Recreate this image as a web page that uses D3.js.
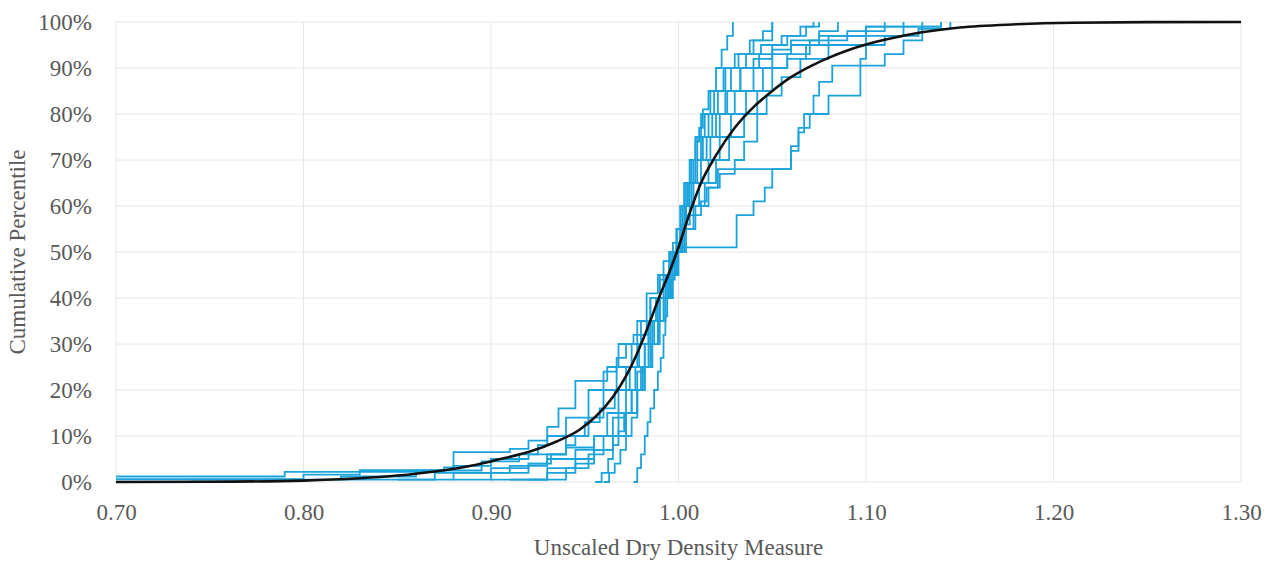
<!DOCTYPE html>
<html>
<head>
<meta charset="utf-8">
<script src="https://cdn.jsdelivr.net/npm/d3@7"></script>
<style>
  html, body { margin: 0; padding: 0; background: #fff; }
  #chart { width: 1274px; height: 561px; }
  text { font-family: "Liberation Serif", "Tinos", "DejaVu Serif", serif; fill: #595959; }
</style>
</head>
<body>
<div id="chart"></div>
<script>
// Tick values for both axes
const xTicks = [0.70, 0.80, 0.90, 1.00, 1.10, 1.20, 1.30];
const yTicks = [0, 10, 20, 30, 40, 50, 60, 70, 80, 90, 100];

// Fitted cumulative curve (black): [measure, percentile]
const fittedCurve = [
  [0.70, 0], [0.75, 0.05], [0.80, 0.3], [0.83, 0.8], [0.85, 1.4], [0.87, 2.3],
  [0.89, 3.6], [0.905, 5], [0.92, 6.5], [0.935, 8.8], [0.947, 11.3], [0.956, 14.3],
  [0.965, 18.5], [0.972, 23], [0.978, 28], [0.984, 34], [0.99, 40.5], [0.995, 45.5],
  [1.00, 51], [1.006, 58.5], [1.012, 65], [1.02, 71], [1.03, 77], [1.04, 81.5],
  [1.05, 85], [1.06, 88], [1.07, 90.3], [1.08, 92.2], [1.09, 93.8], [1.10, 95.1],
  [1.113, 96.4], [1.129, 97.7], [1.15, 98.8], [1.18, 99.5], [1.21, 99.85],
  [1.25, 99.97], [1.30, 100]
];

// Empirical step series (blue): each step rises to [measure, percentile]
const stepA = [[0.976,0],[0.978,3],[0.98,6],[0.982,10],[0.9835,13],[0.985,16],[0.987,20],[0.989,24],[0.9905,27],[0.992,32],[0.993,36],[0.994,40],[0.996,44],[0.998,48],[0.999,51],[1.001,55],[1.003,60],[1.005,65],[1.007,70],[1.009,74],[1.011,77],[1.013,81],[1.016,85],[1.02,90],[1.023,94],[1.026,97],[1.029,100]];
const stepB = [[0.9555,0],[0.959,2],[0.9625,5],[0.965,8],[0.968,11],[0.971,15],[0.975,20],[0.978,24],[0.982,30],[0.985,35],[0.988,40],[0.992,45],[0.996,50],[0.999,55],[1.001,60],[1.004,65],[1.006,70],[1.01,75],[1.014,80],[1.019,85],[1.025,90],[1.032,93],[1.04,96],[1.05,100]];
const stepC = [[0.70,1.2],[0.79,2.2],[0.875,3.2],[0.88,6.5],[0.91,7.2],[0.92,9],[0.93,12],[0.936,16],[0.945,22],[0.962,25],[0.968,30],[0.976,32],[0.983,41],[0.989,45],[0.992,48],[0.997,52],[1.002,56],[1.006,60],[1.011,65],[1.016,70],[1.022,75],[1.028,80],[1.036,85],[1.045,90],[1.058,93],[1.07,96],[1.09,98],[1.11,100]];
const stepD = [[0.70,0.6],[0.80,1.6],[0.83,2.6],[0.88,3.5],[0.90,5],[0.92,6],[0.94,7.5],[0.955,10],[0.965,14],[0.972,20],[0.977,25],[0.982,30],[0.986,35],[0.99,40],[0.994,45],[0.998,50],[1.001,55],[1.004,60],[1.008,65],[1.012,70],[1.017,75],[1.022,80],[1.03,85],[1.04,90],[1.05,93],[1.06,95],[1.075,97],[1.10,99],[1.14,100]];
const stepE = [[0.90,0.5],[0.93,2],[0.945,4],[0.955,7],[0.965,10],[0.972,15],[0.978,20],[0.982,25],[0.986,30],[0.989,35],[0.992,40],[0.995,45],[0.999,51],[1.031,58],[1.04,61],[1.046,64],[1.05,68],[1.06,73],[1.064,77],[1.07,80],[1.08,84],[1.097,92],[1.10,95],[1.11,97],[1.128,98.5],[1.145,100]];
const stepF = [[0.92,0.5],[0.94,3],[0.952,6],[0.96,10],[0.968,15],[0.975,20],[0.98,25],[0.985,30],[0.989,35],[0.993,40],[0.997,45],[1.0,50],[1.002,55],[1.004,58],[1.012,61],[1.015,64],[1.021,68],[1.06,72],[1.064,76],[1.067,80],[1.072,84],[1.075,87],[1.082,90.5],[1.11,93],[1.12,96],[1.13,100]];
const stepG = [[0.88,0.5],[0.90,2],[0.92,4],[0.932,6],[0.94,8],[0.945,10],[0.952,14],[0.96,20],[0.967,25],[0.975,30],[0.98,35],[0.985,40],[0.99,45],[0.995,50],[0.999,55],[1.002,60],[1.005,65],[1.008,70],[1.013,75],[1.018,80],[1.025,85],[1.033,90],[1.04,92],[1.05,94],[1.06,96],[1.075,98],[1.085,100]];
const stepH = [[0.74,0.5],[0.82,1.2],[0.86,2.5],[0.895,4.5],[0.915,6],[0.925,8],[0.93,10],[0.94,14],[0.952,20],[0.96,24],[0.967,27],[0.972,30],[0.978,35],[0.985,40],[0.99,44],[0.995,47],[0.998,50],[1.001,55],[1.004,60],[1.007,65],[1.01,70],[1.015,75],[1.02,80],[1.026,85],[1.033,90],[1.043,93],[1.05,95],[1.058,97],[1.068,99],[1.075,100]];
const stepI = [[0.91,0.5],[0.93,3],[0.945,5],[0.955,7],[0.965,10],[0.972,15],[0.978,20],[0.982,25],[0.986,30],[0.99,35],[0.993,40],[0.996,45],[0.999,50],[1.002,55],[1.004,60],[1.006,65],[1.009,70],[1.012,75],[1.016,80],[1.021,85],[1.028,90],[1.036,93],[1.044,95],[1.055,97],[1.065,99],[1.072,100]];
const stepJ = [[0.85,0.5],[0.88,2],[0.91,3.5],[0.93,5],[0.945,7],[0.955,10],[0.962,15],[0.968,20],[0.974,25],[0.979,30],[0.984,35],[0.989,40],[0.994,45],[0.999,50],[1.003,55],[1.008,60],[1.014,65],[1.02,70],[1.027,75],[1.035,80],[1.042,85],[1.05,90],[1.058,92],[1.068,95],[1.08,97],[1.1,99],[1.12,100]];
const stepK = [[0.96,0],[0.963,2],[0.966,4],[0.969,7],[0.972,10],[0.975,14],[0.978,20],[0.981,25],[0.984,30],[0.987,35],[0.99,40],[0.993,45],[0.997,50],[0.999,55],[1.001,60],[1.003,65],[1.006,70],[1.009,75],[1.012,80],[1.017,85],[1.024,90],[1.03,93],[1.038,96],[1.045,98],[1.05,100]];
const stepL = [[0.82,0.5],[0.87,2],[0.9,3],[0.92,4],[0.93,6],[0.94,10],[0.95,13],[0.958,16],[0.966,20],[0.972,25],[0.978,30],[0.984,35],[0.99,40],[0.995,45],[0.999,50],[1.004,55],[1.009,60],[1.016,64],[1.022,67],[1.03,70],[1.035,74],[1.042,80],[1.047,84],[1.055,88],[1.065,92],[1.08,95],[1.1,97],[1.12,99],[1.14,100]];

const stepSeries = [stepA, stepB, stepC, stepD, stepE, stepF, stepG, stepH, stepI, stepJ, stepK, stepL];

const width = 1274, height = 561;
const m = { top: 22, right: 33, bottom: 79, left: 116 };
const innerW = width - m.left - m.right;
const innerH = height - m.top - m.bottom;
const serif = '"Liberation Serif", "Tinos", "DejaVu Serif", serif';

const svg = d3.select('#chart').append('svg').attr('width', width).attr('height', height);
const g = svg.append('g').attr('transform', `translate(${m.left},${m.top})`);

const x = d3.scaleLinear().domain([0.70, 1.30]).range([0, innerW]);
const y = d3.scaleLinear().domain([0, 100]).range([innerH, 0]);

// Gridlines
g.append('g').selectAll('line').data(yTicks).enter().append('line')
  .attr('x1', 0).attr('x2', innerW)
  .attr('y1', d => y(d)).attr('y2', d => y(d))
  .attr('stroke', '#e6e6e6').attr('stroke-width', 1);
g.append('g').selectAll('line').data(xTicks).enter().append('line')
  .attr('y1', 0).attr('y2', innerH)
  .attr('x1', d => x(d)).attr('x2', d => x(d))
  .attr('stroke', '#e6e6e6').attr('stroke-width', 1);

// Blue step lines
const stepLine = d3.line().x(d => x(d[0])).y(d => y(d[1])).curve(d3.curveStepAfter);
g.append('g').selectAll('path').data(stepSeries).enter().append('path')
  .attr('d', stepLine)
  .attr('fill', 'none')
  .attr('stroke', '#1ba3dd')
  .attr('stroke-width', 1.8);

// Black fitted curve
const smooth = d3.line().x(d => x(d[0])).y(d => y(d[1])).curve(d3.curveMonotoneX);
g.append('path').datum(fittedCurve)
  .attr('d', smooth)
  .attr('fill', 'none')
  .attr('stroke', '#111')
  .attr('stroke-width', 2.6);

// Axes (labels only, no domain lines)
const xAxis = g.append('g').attr('transform', `translate(0,${innerH})`)
  .call(d3.axisBottom(x).tickValues(xTicks).tickFormat(d3.format('.2f')).tickSize(0).tickPadding(22));
const yAxis = g.append('g')
  .call(d3.axisLeft(y).tickValues(yTicks).tickFormat(d => d + '%').tickSize(0).tickPadding(24));
[xAxis, yAxis].forEach(a => {
  a.select('.domain').remove();
  a.attr('font-family', serif);
  a.selectAll('text').style('font-size', '23px').style('font-family', serif).attr('fill', '#595959');
});

// Axis titles
svg.append('text')
  .attr('x', m.left + innerW / 2).attr('y', 555)
  .attr('text-anchor', 'middle').style('font-size', '23px')
  .text('Unscaled Dry Density Measure');
svg.append('text')
  .attr('transform', `translate(25,${m.top + innerH / 2}) rotate(-90)`)
  .attr('text-anchor', 'middle').style('font-size', '23px')
  .text('Cumulative Percentile');
</script>
</body>
</html>
